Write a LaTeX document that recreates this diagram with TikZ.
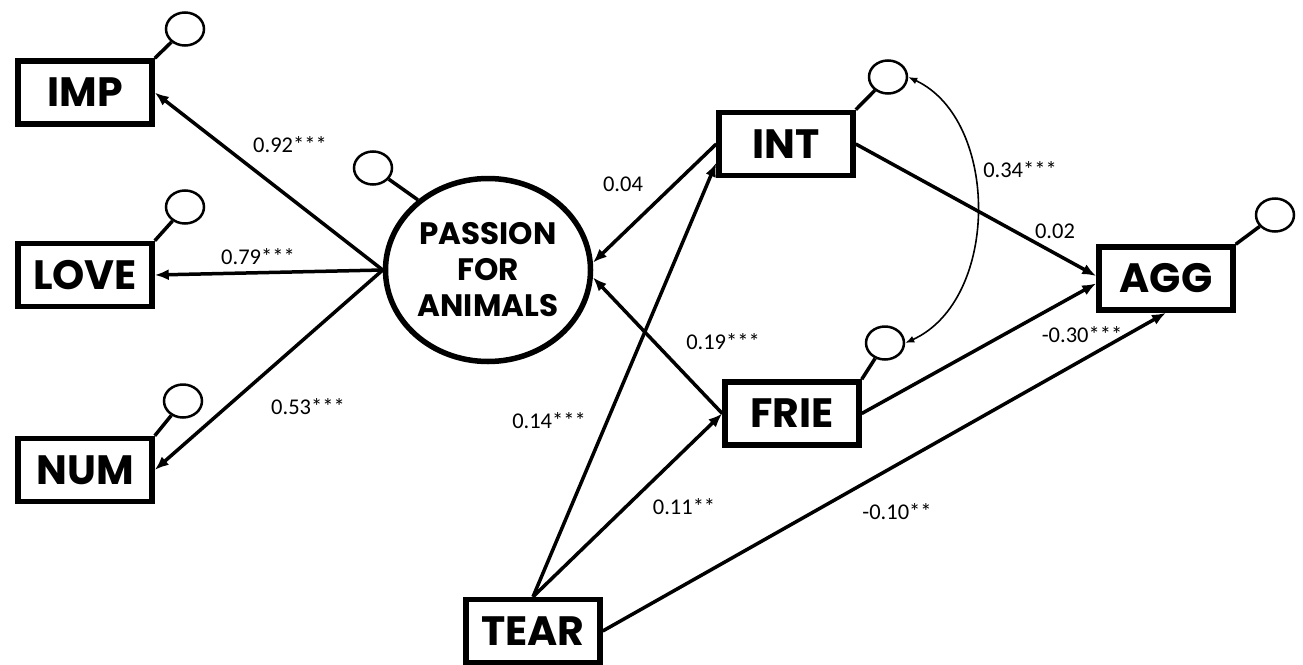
\documentclass[tikz,border=0pt]{standalone}
\usepackage{fontspec}
\setmainfont{Carlito}
\newfontfamily\boxfont{Poppins}
\usetikzlibrary{arrows.meta, shapes.geometric}

\tikzset{
    var/.style={draw, line width=5.5pt, minimum width=134pt, minimum height=63pt, inner sep=0pt,
        font=\boxfont\bfseries\fontsize{41}{41}\selectfont},
    latent/.style={draw, ellipse, line width=5.5pt, minimum width=205pt, minimum height=183pt,
        inner sep=0pt, align=center, font=\boxfont\bfseries\fontsize{31}{36}\selectfont},
    err/.style={draw, ellipse, line width=2.5pt, minimum width=38pt, minimum height=33pt, inner sep=0pt},
    errlink/.style={line width=3.5pt},
    effect/.style={line width=3.5pt, -{Latex[length=14pt, width=11pt]}},
    coef/.style={font=\fontsize{22.5}{22.5}\selectfont, inner sep=1pt}
}

\begin{document}
\begin{tikzpicture}[x=1pt, y=-1pt]
    \useasboundingbox (0,0) rectangle (1303,664);

    % Các biến quan sát
    \node[var] (imp) at (85, 92.5) {IMP};
    \node[var] (love) at (85, 275) {LOVE};
    \node[var] (num) at (85, 470) {NUM};
    \node[var] (int) at (786, 144) {INT};
    \node[var] (frie) at (792, 413.5) {FRIE};
    \node[var] (agg) at (1166, 278.5) {AGG};
    \node[var] (tear) at (533, 631) {TEAR};

    % Biến tiềm ẩn
    \node[latent] (passion) at (488, 270) {PASSION\\FOR\\ANIMALS};

    % Các sai số
    \node[err] (eimp) at (185, 29) {};
    \node[err] (elove) at (185, 207) {};
    \node[err] (enum) at (183, 401) {};
    \node[err] (epass) at (373, 168) {};
    \node[err] (eint) at (888, 77) {};
    \node[err] (efrie) at (885, 343) {};
    \node[err] (eagg) at (1275, 215) {};

    \draw[errlink] (imp.north east) -- (eimp);
    \draw[errlink] (love.north east) -- (elove);
    \draw[errlink] (num.north east) -- (enum);
    \draw[errlink] (passion.135) -- (epass);
    \draw[errlink] (int.north east) -- (eint);
    \draw[errlink] (frie.north east) -- (efrie);
    \draw[errlink] (agg.north east) -- (eagg);

    % Các đường tác động
    \draw[effect] (passion.west) -- (imp.east);
    \draw[effect] (passion.west) -- (love.east);
    \draw[effect] (passion.west) -- (num.east);
    \draw[effect] (int.west) -- (passion.4);
    \draw[effect] (frie.west) -- (passion.-4);
    \draw[effect] (tear.north) -- (int.195);
    \draw[effect] (tear.north) -- (frie.west);
    \draw[effect] (tear.east) -- (agg.south);
    \draw[effect] (int.east) -- (agg.178);
    \draw[effect] (frie.east) -- (agg.184);

    % Hiệp phương sai giữa hai sai số
    \draw[line width=1.6pt, {Latex[length=9pt, width=7pt]}-{Latex[length=9pt, width=7pt]}]
        (eint.east) .. controls (1000, 120) and (1000, 300) .. (efrie.east);

    % Các hệ số
    \node[coef] (c92) at (290, 145) {0.92***};
    \node[coef] (c79) at (258, 257) {0.79***};
    \node[coef] (c53) at (308, 407) {0.53***};
    \node[coef] (c04) at (623, 184) {0.04};
    \node[coef] (c19) at (723, 342) {0.19***};
    \node[coef] (c14) at (549, 421) {0.14***};
    \node[coef] (c11) at (684, 507) {0.11**};
    \node[coef] (c10) at (897, 512) {-0.10**};
    \node[coef] (c34) at (1020, 170) {0.34***};
    \node[coef] (c02) at (1055, 231) {0.02};
    \node[coef] (c30) at (1082, 335) {-0.30***};

\end{tikzpicture}
\end{document}
